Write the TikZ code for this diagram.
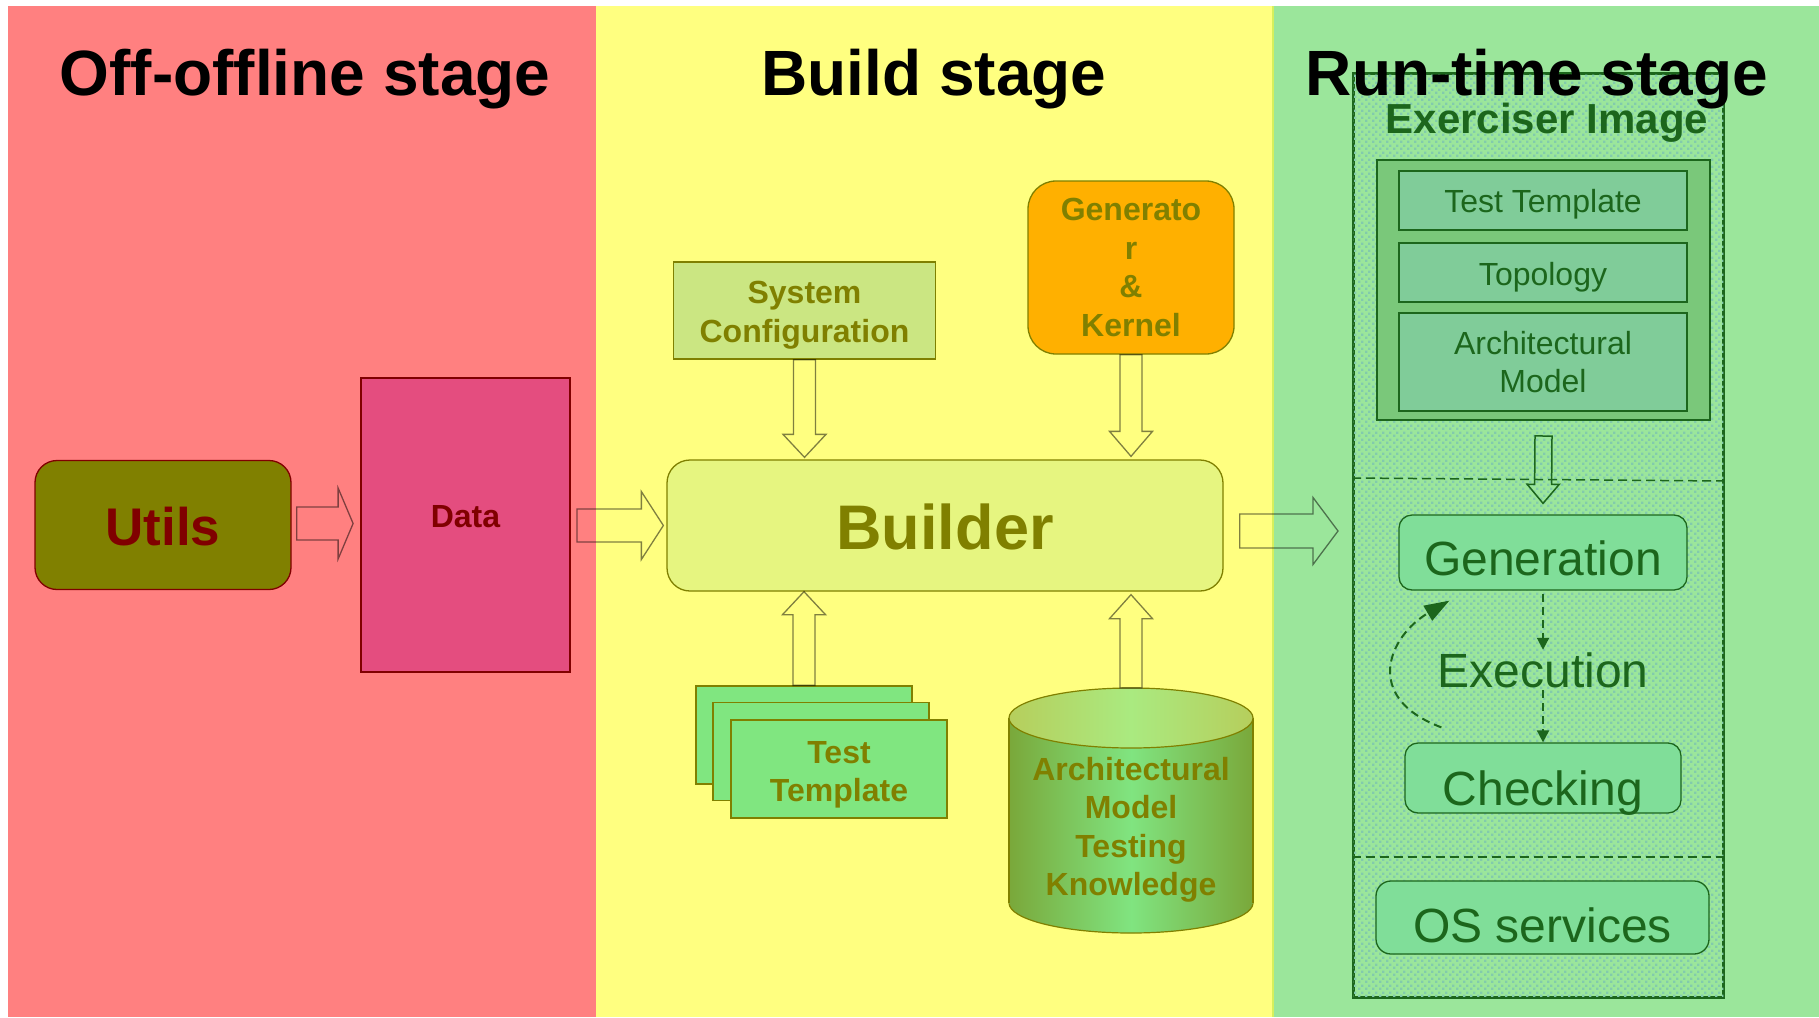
\documentclass[tikz,border=0pt]{standalone}
\usepackage{fontspec}
\setmainfont{Liberation Sans}
\usetikzlibrary{calc,arrows.meta,patterns.meta}

% palette
\definecolor{panelred}{RGB}{255,128,128}
\definecolor{panelyellow}{RGB}{255,255,128}
\definecolor{panelgreen}{RGB}{155,230,155}
\definecolor{seam}{RGB}{214,240,92}
\definecolor{olivec}{RGB}{128,128,0}
\definecolor{darkredc}{RGB}{128,0,0}
\definecolor{datafill}{RGB}{228,77,127}
\definecolor{builderfill}{RGB}{230,245,128}
\definecolor{sysfill}{RGB}{203,230,130}
\definecolor{genfill}{RGB}{255,176,0}
\definecolor{ttfill}{RGB}{128,230,128}
\definecolor{dgreen}{RGB}{28,102,28}
\definecolor{groupfill}{RGB}{122,200,122}
\definecolor{itemfill}{RGB}{128,204,153}
\definecolor{stepfill}{RGB}{128,222,153}
\definecolor{stipplec}{RGB}{130,203,172}
\definecolor{cylEdge}{RGB}{122,168,58}
\definecolor{cylMid}{RGB}{128,228,128}
\definecolor{capEdge}{RGB}{182,206,92}
\definecolor{capMid}{RGB}{170,234,128}

% fine dither used inside the exerciser image
\tikzdeclarepattern{
  name=stipple,
  type=uncolored,
  bottom left={(0pt,0pt)},
  top right={(7pt,7pt)},
  tile size={(7pt,7pt)},
  code={
    \fill (0pt,0pt) rectangle (2.7pt,2.7pt);
    \fill (3.5pt,3.5pt) rectangle (6.2pt,6.2pt);
  }
}

% outlined block arrow: style, from, to, shaft half width, head half width, head length
\newcommand\blockarrow[6]{%
  \coordinate (ba-s) at (#2);
  \coordinate (ba-t) at (#3);
  \coordinate (ba-b) at ($(ba-t)!#6!(ba-s)$);
  \draw[#1] ($(ba-s)!#4!90:(ba-t)$) -- ($(ba-b)!#4!90:(ba-t)$)
    -- ($(ba-b)!#5!90:(ba-t)$) -- (ba-t)
    -- ($(ba-b)!#5!-90:(ba-t)$) -- ($(ba-b)!#4!-90:(ba-t)$)
    -- ($(ba-s)!#4!-90:(ba-t)$) -- cycle;
}
% invisible strut that lowers a multi-line label inside its box
\newcommand\lowerby[1]{\rule{0pt}{\dimexpr 23pt+#1\relax}}

\tikzset{
  box/.style={draw=olivec, line width=1.3pt, inner sep=0pt, align=center},
  boldtxt/.style={font=\fontsize{32}{38.5}\selectfont\bfseries, text=olivec},
  baseat/.style={text height=#1, text depth=0pt},
  barrow/.style={draw=black, draw opacity=0.5, line width=1.3pt, line join=miter},
  xarrow/.style={draw=dgreen, line width=1.5pt, line join=miter},
  stagetitle/.style={font=\fontsize{64}{76}\selectfont\bfseries, anchor=base, inner sep=0pt},
  item/.style={draw=dgreen, line width=1.3pt, fill=itemfill, minimum width=288pt,
    inner sep=0pt, align=center, text=dgreen, font=\fontsize{32}{38}\selectfont},
  stepbox/.style={draw=dgreen, line width=1.3pt, fill=stepfill, inner sep=0pt,
    text=dgreen, font=\fontsize{48}{56}\selectfont},
  divider/.style={draw=dgreen, line width=1.5pt, dash pattern=on 9pt off 5pt},
  flow/.style={draw=dgreen, line width=2pt, dash pattern=on 8pt off 5pt,
    -{Triangle[length=12pt,width=12pt]}},
  ttbox/.style={box, fill=ttfill, minimum width=216pt, minimum height=98pt},
}

\begin{document}
\begin{tikzpicture}[x=1pt,y=-1pt]
\useasboundingbox (0,0) rectangle (1819,1017);

% stage panels
\fill[white] (0,0) rectangle (1819,1017);
\fill[panelred] (8,6) rectangle (596,1017);
\fill[panelyellow] (596,6) rectangle (1273,1017);
\fill[panelgreen] (1273,6) rectangle (1819,1017);
\draw[seam, line width=2pt] (1273,6) -- (1273,1017);

% ---- off-offline stage
\node[box, draw=darkredc, fill=olivec, rounded corners=22pt, minimum width=256pt,
  minimum height=129pt, font=\fontsize{53}{60}\selectfont\bfseries, text=darkredc,
  baseat=40pt] (utils) at (163,525) {Utils};
\node[box, draw=darkredc, line width=1.8pt, fill=datafill, minimum width=209pt,
  minimum height=294pt, boldtxt, text=darkredc, baseat=4pt] (data) at (465.5,525) {Data};

% ---- build stage
\node[box, fill=builderfill, rounded corners=23pt, minimum width=556pt, minimum height=131pt,
  font=\fontsize{63}{75}\selectfont\bfseries, text=olivec, baseat=47pt] (builder) at (945,525.5) {Builder};
\node[box, fill=sysfill, minimum width=262pt, minimum height=97pt, boldtxt]
  (sysconf) at (804.5,310.5) {\lowerby{9pt}System\\Configuration};
\node[box, fill=genfill, rounded corners=28pt, minimum width=206pt, minimum height=173pt, boldtxt]
  (gen) at (1131,267.5) {Generato\\r\\\&\\Kernel};

\node[ttbox] (tt-back) at (804,735) {};
\node[ttbox] (tt-mid) at (821,751.5) {};
\node[ttbox, boldtxt] (tt-front) at (839,769) {\lowerby{11pt}Test\\Template};

% knowledge base cylinder
\shadedraw[draw=olivec, line width=1.2pt, left color=cylEdge, right color=cylEdge, middle color=cylMid]
  (1131,903) ellipse [x radius=122pt, y radius=30pt];
\shade[left color=cylEdge, right color=cylEdge, middle color=cylMid] (1009,718) rectangle (1253,903);
\draw[olivec, line width=1.2pt] (1009,718) -- (1009,903) (1253,718) -- (1253,903);
\shadedraw[draw=olivec, line width=1.2pt, left color=capEdge, right color=capEdge, middle color=capMid]
  (1131,718) ellipse [x radius=122pt, y radius=30pt];
\coordinate (kbtop) at (1131,688);
\node[boldtxt, align=center, inner sep=0pt] (kb) at (1131,830)
  {Architectural\\Model\\Testing\\Knowledge};

% ---- run-time stage
\node[draw=dgreen, line width=2.5pt, fill=panelgreen,
  postaction={pattern=stipple, pattern color=stipplec},
  minimum width=370pt, minimum height=924pt, inner sep=0pt, anchor=north west]
  (exerciser) at (1352,72) {};
\node[font=\fontsize{42}{50}\selectfont\bfseries, text=dgreen, anchor=base, inner sep=0pt]
  (ex-title) at (1547,133) {Exerciser Image};

\node[draw=dgreen, line width=2pt, fill=groupfill, minimum width=333pt, minimum height=260pt,
  inner sep=0pt, anchor=north west] (group) at (1376,159) {};
\node[item, minimum height=59pt, baseat=24pt] (i-tt) at (1543,200.5) {Test Template};
\node[item, minimum height=59pt, baseat=25pt] (i-topo) at (1543,272.5) {Topology};
\node[item, minimum height=98pt] (i-arch) at (1543,362) {Architectural\\Model};

\draw[divider] ($(exerciser.north west)+(0,406)$) -- ($(exerciser.north east)+(0,409)$);
\draw[divider] ($(exerciser.north west)+(0,785)$) -- ($(exerciser.north east)+(0,785)$);

\node[stepbox, rounded corners=13pt, minimum width=288pt, minimum height=75pt, baseat=45pt]
  (generation) at (1543,552.5) {Generation};
\node[text=dgreen, font=\fontsize{48}{56}\selectfont, text height=34pt, text depth=0pt,
  inner sep=3pt, anchor=base] (exec) at (1543,687) {Execution};
\node[stepbox, rounded corners=13pt, minimum width=276pt, minimum height=70pt, baseat=54pt]
  (checking) at (1543,778) {Checking};
\node[stepbox, rounded corners=15pt, minimum width=333pt, minimum height=73pt, baseat=49pt]
  (os) at (1542.5,917.5) {OS services};

% ---- connectors
\blockarrow{barrow}{$(utils.east)+(5,-1.5)$}{$(data.west)+(-7,-1.5)$}{16.5pt}{35.5pt}{15pt}
\blockarrow{barrow}{$(data.east)+(6,0.5)$}{$(builder.west)+(-3,0)$}{16.5pt}{34pt}{22pt}
\blockarrow{barrow}{$(builder.east)+(16,5.5)$}{$(builder.east -| exerciser.west)+(-14,5.5)$}{17pt}{33.5pt}{25pt}
\blockarrow{barrow}{sysconf.south}{$(sysconf.south |- builder.north)+(0,-2)$}{11pt}{21.5pt}{23pt}
\blockarrow{barrow}{gen.south}{$(gen.south |- builder.north)+(0,-3)$}{11pt}{21.5pt}{25pt}
\blockarrow{barrow}{tt-back.north}{tt-back.north |- builder.south}{11pt}{21.5pt}{23pt}
\blockarrow{barrow}{kbtop}{$(kbtop |- builder.south)+(0,3)$}{11pt}{21.5pt}{24pt}

\blockarrow{xarrow}{$(group.south)+(0,15)$}{$(generation.north)+(0,-11)$}{8.5pt}{16pt}{19pt}

\draw[flow, shorten <=3pt] (generation.south) -- (exec.north);
\draw[flow] (exec.south) -- (checking.north);
\draw[flow, -{Triangle[length=25pt,width=17pt]}]
  ($(checking.north west)+(37,-15)$) .. controls +(-80,-30) and +(-60,35) ..
  ($(generation.south west)+(51,10)$);

% stage titles
\node[stagetitle] (t-off) at (305,95) {Off-offline stage};
\node[stagetitle] (t-build) at (934,95) {Build stage};
\node[stagetitle] (t-run) at (1537,95) {Run-time stage};
\end{tikzpicture}
\end{document}
